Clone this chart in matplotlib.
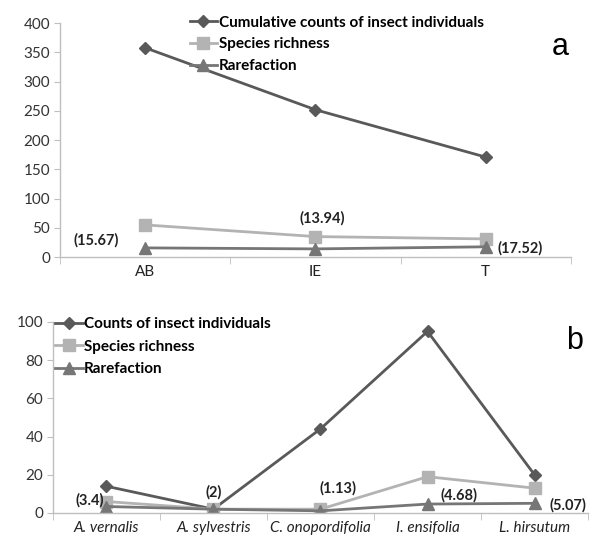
import matplotlib
matplotlib.use('Agg')
import matplotlib.pyplot as plt

plt.rcParams['font.family'] = ['Lato', 'DejaVu Sans']

# panel a
sites = ['AB', 'IE', 'T']
cum_counts = [358, 252, 171]
richness_a = [55, 35, 31]
rarefaction_a = [15.67, 13.94, 17.52]
labels_a = ['(15.67)', '(13.94)', '(17.52)']

# panel b
plants = ['A. vernalis', 'A. sylvestris', 'C. onopordifolia', 'I. ensifolia', 'L. hirsutum']
counts_b = [14, 2, 44, 95, 20]
richness_b = [6, 2, 2, 19, 13]
rarefaction_b = [3.4, 2, 1.13, 4.68, 5.07]
labels_b = ['(3.4)', '(2)', '(1.13)', '(4.68)', '(5.07)']

dark = '#595959'
light = '#b3b3b3'
mid = '#767676'
spine = '#bfbfbf'
fs = 11

fig = plt.figure(figsize=(5.94, 5.40), dpi=100)
ax1 = fig.add_axes([0.101, 0.524, 0.860, 0.433])
ax2 = fig.add_axes([0.089, 0.050, 0.901, 0.354])


def style(ax, n):
    for s in ['top', 'right']:
        ax.spines[s].set_visible(False)
    for s in ['left', 'bottom']:
        ax.spines[s].set_color(spine)
        ax.spines[s].set_linewidth(1.0)
    ax.set_xlim(-0.5, n - 0.5)
    ax.tick_params(axis='y', length=4, color=spine, labelsize=fs, pad=3, labelcolor='#333333')
    ax.tick_params(axis='x', which='major', length=0, labelsize=fs, pad=6, labelcolor='#222222')
    ax.set_xticks([i + 0.5 for i in range(-1, n)], minor=True)
    ax.tick_params(axis='x', which='minor', length=5, color=spine)


x = range(len(sites))
ax1.plot(x, cum_counts, color=dark, lw=2, marker='D', ms=6,
         label='Cumulative counts of insect individuals')
ax1.plot(x, richness_a, color=light, lw=2, marker='s', ms=8.5, label='Species richness')
ax1.plot(x, rarefaction_a, color=mid, lw=2, marker='^', ms=8.5, label='Rarefaction')
style(ax1, len(sites))
ax1.set_ylim(0, 400)
ax1.set_yticks(range(0, 401, 50))
ax1.set_xticks(list(x))
ax1.set_xticklabels(sites)
pos_a = [(-0.29, 29), (1.04, 67), (2.2, 15)]
for (px, py), t in zip(pos_a, labels_a):
    ax1.text(px, py, t, ha='center', va='center', fontsize=10.5, fontweight='bold', color='#222222')
ax1.legend(loc='upper left', bbox_to_anchor=(0.254, 1.032), frameon=False,
           prop={'size': fs, 'weight': 'bold'}, handlelength=1.8, handletextpad=0.1,
           labelspacing=0.5, borderaxespad=0, borderpad=0)
ax1.text(0.995, 0.9, 'a', transform=ax1.transAxes, fontsize=22,
         family='Liberation Sans', ha='right', va='center')

x2 = range(len(plants))
ax2.plot(x2, counts_b, color=dark, lw=2, marker='D', ms=6, label='Counts of insect individuals')
ax2.plot(x2, richness_b, color=light, lw=2, marker='s', ms=8.5, label='Species richness')
ax2.plot(x2, rarefaction_b, color=mid, lw=2, marker='^', ms=8.5, label='Rarefaction')
style(ax2, len(plants))
ax2.set_ylim(0, 100)
ax2.set_yticks(range(0, 101, 20))
ax2.set_xticks(list(x2))
ax2.set_xticklabels(plants, style='italic')
pos_b = [(-0.16, 6.8), (1.0, 11), (2.16, 13), (3.29, 9.4), (4.31, 4.2)]
for (px, py), t in zip(pos_b, labels_b):
    ax2.text(px, py, t, ha='center', va='center', fontsize=10.5, fontweight='bold', color='#222222')
ax2.legend(loc='upper left', bbox_to_anchor=(0.004, 1.024), frameon=False,
           prop={'size': fs, 'weight': 'bold'}, handlelength=1.8, handletextpad=0.1,
           labelspacing=0.55, borderaxespad=0, borderpad=0)
ax2.text(0.99, 0.9, 'b', transform=ax2.transAxes, fontsize=22,
         family='Liberation Sans', ha='right', va='center')

fig.savefig('out.png', dpi=100)
